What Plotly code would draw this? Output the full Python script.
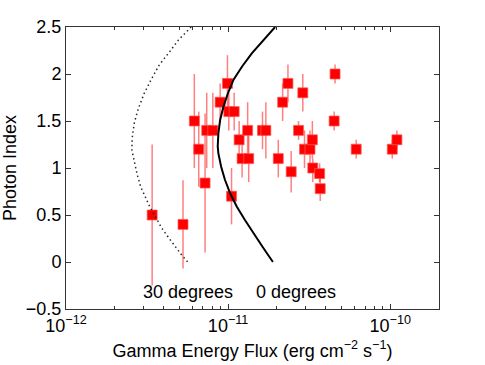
import numpy as np
import plotly.graph_objects as go

# measured sources: energy flux, photon index and its error
flux = [3.40e-12, 5.27e-12, 6.19e-12, 6.59e-12, 7.21e-12, 7.38e-12, 8.05e-12,
        8.93e-12, 9.91e-12, 1.01e-11, 1.09e-11, 1.05e-11, 1.17e-11, 1.22e-11,
        1.34e-11, 1.32e-11, 1.63e-11, 1.71e-11, 2.04e-11, 2.17e-11, 2.34e-11,
        2.45e-11, 2.72e-11, 2.89e-11, 2.96e-11, 3.20e-11, 3.31e-11, 3.33e-11,
        3.67e-11, 3.70e-11, 4.57e-11, 4.51e-11, 6.17e-11, 1.03e-10, 1.10e-10]
index = [0.50, 0.40, 1.50, 1.20, 0.84, 1.40, 1.40,
         1.70, 1.90, 1.60, 1.60, 0.70, 1.30, 1.10,
         1.10, 1.40, 1.40, 1.40, 1.10, 1.70, 1.90,
         0.96, 1.40, 1.80, 1.20, 1.20, 1.30, 1.00,
         0.94, 0.78, 2.00, 1.50, 1.20, 1.20, 1.30]
err_up = [0.75, 0.47, 0.50, 0.40, 0.74, 0.40, 0.40,
          0.20, 0.30, 0.20, 0.20, 0.30, 0.20, 0.20,
          0.25, 0.30, 0.20, 0.30, 0.20, 0.20, 0.20,
          0.22, 0.10, 0.20, 0.20, 0.20, 0.20, 0.10,
          0.11, 0.11, 0.10, 0.10, 0.10, 0.10, 0.10]
err_down = [0.75, 0.47, 0.50, 0.40, 0.74, 0.40, 0.40,
            0.20, 0.30, 0.20, 0.20, 0.30, 0.20, 0.20,
            0.25, 0.30, 0.20, 0.30, 0.20, 0.20, 0.20,
            0.22, 0.10, 0.20, 0.20, 0.20, 0.20, 0.15,
            0.09, 0.13, 0.10, 0.10, 0.10, 0.10, 0.10]

# 30 degrees curve (dotted)
flux_30 = [5.92e-12, 4.93e-12, 4.33e-12, 3.77e-12, 3.35e-12, 3.03e-12, 2.79e-12,
           2.64e-12, 2.56e-12, 2.55e-12, 2.67e-12, 2.75e-12, 2.89e-12, 3.08e-12,
           3.27e-12, 3.51e-12, 3.90e-12, 4.29e-12, 4.71e-12, 5.13e-12, 5.64e-12]
index_30 = [2.50, 2.36, 2.23, 2.10, 1.94, 1.79, 1.63,
            1.48, 1.32, 1.19, 1.03, 0.93, 0.80, 0.695,
            0.596, 0.50, 0.36, 0.26, 0.163, 0.082, 0.0]

# 0 degrees curve (solid)
flux_0 = [1.95e-11, 1.65e-11, 1.40e-11, 1.22e-11, 1.08e-11, 9.95e-12, 9.35e-12,
          8.93e-12, 8.71e-12, 8.63e-12, 8.71e-12, 9.06e-12, 9.57e-12, 1.03e-11,
          1.13e-11, 1.27e-11, 1.43e-11, 1.63e-11, 1.89e-11]
index_0 = [2.50, 2.36, 2.22, 2.08, 1.94, 1.79, 1.65,
           1.51, 1.37, 1.23, 1.156, 1.014, 0.872, 0.73,
           0.59, 0.447, 0.305, 0.163, 0.0]

x_ticks = [1e-12, 1e-11, 1e-10]
x_tick_text = ["10<sup>\u221212</sup>", "10<sup>\u221211</sup>", "10<sup>\u221210</sup>"]
y_ticks = [-0.5, 0, 0.5, 1, 1.5, 2, 2.5]
y_tick_text = ["\u22120.5", "0", "0.5", "1", "1.5", "2", "2.5"]

FONT = "Liberation Sans, Arial, Helvetica, sans-serif"

fig = go.Figure()
fig.add_trace(go.Scatter(x=flux, y=index, mode="markers",
                         marker=dict(symbol="square", size=10, color="red",
                                     line=dict(width=1, color="rgba(255,90,90,0.7)")),
                         error_y=dict(type="data", symmetric=False,
                                      array=err_up, arrayminus=err_down,
                                      color="rgba(255,0,0,0.5)", thickness=1.5, width=0),
                         showlegend=False))
fig.add_trace(go.Scatter(x=flux_30, y=index_30, mode="lines",
                         line=dict(color="rgb(40,40,40)", width=1.5, dash="1.5px,3px"),
                         showlegend=False))
fig.add_trace(go.Scatter(x=flux_0, y=index_0, mode="lines",
                         line=dict(color="black", width=2),
                         showlegend=False))

# minor ticks on the log axis
minor_x = [m * 10.0 ** e for e in (-12, -11, -10) for m in range(2, 10)]

fig.add_annotation(x=np.log10(2.90e-12), y=-0.32, text="30 degrees", showarrow=False,
                   xanchor="left", yanchor="middle", font=dict(size=18, color="black"))
fig.add_annotation(x=np.log10(1.45e-11), y=-0.32, text="0 degrees", showarrow=False,
                   xanchor="left", yanchor="middle", font=dict(size=18, color="black"))

fig.update_layout(
    width=485, height=365,
    margin=dict(l=66, r=46, t=27, b=56),
    paper_bgcolor="white", plot_bgcolor="white",
    font=dict(family=FONT, size=18, color="black"),
    xaxis=dict(type="log", range=[-12, np.log10(2e-10)], automargin=False,
               tickvals=x_ticks, ticktext=x_tick_text,
               ticks="inside", ticklen=5, tickcolor="#333",
               minor=dict(tickvals=minor_x, ticks="inside", ticklen=3, tickcolor="#333"),
               showline=True, linecolor="#333", linewidth=1, mirror="allticks",
               showgrid=False, zeroline=False,
               title=dict(text="Gamma Energy Flux (erg cm<sup>\u22122</sup> s<sup>\u22121</sup>)",
                          standoff=9, font=dict(size=18))),
    yaxis=dict(range=[-0.5, 2.5], automargin=False,
               tickvals=y_ticks, ticktext=y_tick_text,
               ticks="inside", ticklen=5, tickcolor="#333",
               showline=True, linecolor="#333", linewidth=1, mirror="allticks",
               showgrid=False, zeroline=False,
               title=dict(text="Photon Index", standoff=6, font=dict(size=18))),
)

# drop the default page margin so the figure sits at the window's corner
fig.write_html("out.html", config={"displayModeBar": False},
               post_script="document.body.style.margin='0';")
